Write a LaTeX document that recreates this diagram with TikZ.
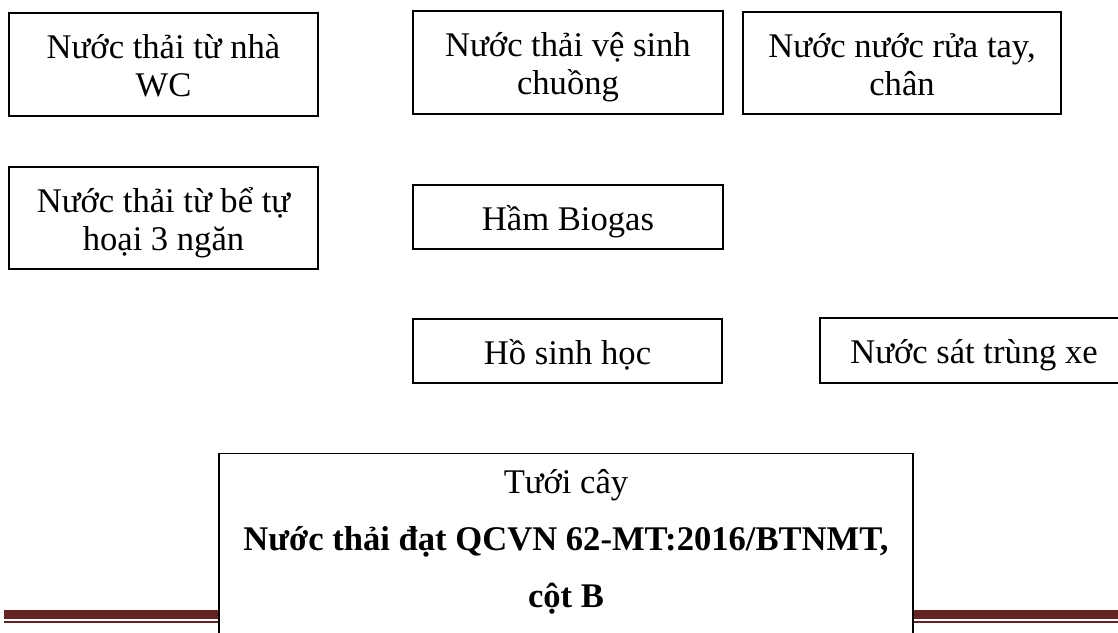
\documentclass[tikz,border=0pt]{standalone}
\usepackage{fontspec}
\setmainfont{Liberation Serif}
\definecolor{barred}{HTML}{632423}

\begin{document}
\begin{tikzpicture}[x=0.5pt,y=-0.5pt,
  every node/.style={draw,line width=0.6pt,fill=white,align=flush center,inner sep=0pt,
    text width=150pt,font=\fontsize{17.3}{19}\selectfont,
    execute at begin node=\rule{0pt}{17pt},execute at end node=\rule[-4pt]{0pt}{4pt}}]
  \useasboundingbox (0,0) rectangle (1118,632);
  % footer rule
  \fill[barred] (4,610) rectangle (1118,619);
  \fill[barred] (4,621) rectangle (1118,623);
  \node[minimum width=154.5pt,minimum height=51.5pt] (wc) at (163.5,64.5) {Nước thải từ nhà\\WC};
  \node[minimum width=154.5pt,minimum height=51pt] (bt) at (163.5,218) {Nước thải từ bể tự\\hoại 3 ngăn};
  \node[minimum width=155pt,minimum height=51.5pt] (vs) at (568,62.5) {Nước thải vệ sinh\\chuồng};
  \node[minimum width=159pt,minimum height=51pt] (rt) at (902,63) {Nước nước rửa tay,\\chân};
  \node[minimum width=155pt,minimum height=32pt] (hb) at (568,217) {Hầm Biogas};
  \node[minimum width=154.5pt,minimum height=32pt] (hs) at (567.5,351) {Hồ sinh học};
  \node[minimum width=154pt,minimum height=32.5pt] (st) at (974,350.5) {Nước sát trùng xe};
  % tall box runs off the bottom edge
  \node[anchor=north,minimum width=347pt,text width=340pt,inner ysep=3pt,
    execute at end node={\rule[-20pt]{0pt}{20pt}},
    font=\fontsize{17.3}{28.5}\selectfont] (tc) at (566,453)
    {Tưới cây\\\textbf{Nước thải đạt QCVN 62-MT:2016/BTNMT,}\\\textbf{cột B}};
\end{tikzpicture}
\end{document}
